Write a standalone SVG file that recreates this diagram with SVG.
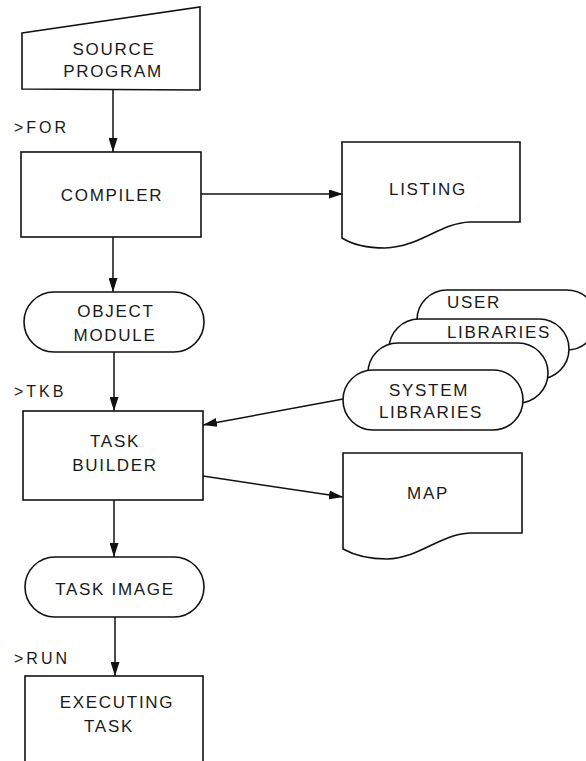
<svg xmlns="http://www.w3.org/2000/svg" width="586" height="761" viewBox="0 0 586 761">
  <style>
    .shape { fill: #fff; stroke: #111; stroke-width: 1.6; }
    .edge { fill: none; stroke: #111; stroke-width: 1.5; marker-end: url(#arrow); }
    .label { font-family: "Liberation Sans", Arial, sans-serif; font-size: 17px; letter-spacing: 1.7px; fill: #1a1a1a; text-anchor: middle; }
    .cmd { font-family: "Liberation Sans", Arial, sans-serif; font-size: 16px; letter-spacing: 3px; fill: #1a1a1a; }
  </style>
  <defs>
    <marker id="arrow" markerUnits="userSpaceOnUse" markerWidth="15" markerHeight="9" refX="14" refY="4.5" orient="auto">
      <path d="M0,0 L14,4.5 L0,9 Z" fill="#111"/>
    </marker>
  </defs>
  <rect width="586" height="761" fill="#fff"/>

  <!-- connectors -->
  <g id="connectors">
    <line class="edge" x1="113" y1="90" x2="113" y2="152"/>
    <line class="edge" x1="201" y1="194" x2="343" y2="194"/>
    <line class="edge" x1="113" y1="237" x2="113" y2="292"/>
    <line class="edge" x1="114" y1="352" x2="114" y2="411"/>
    <line class="edge" x1="343" y1="399" x2="203" y2="425"/>
    <line class="edge" x1="203" y1="476" x2="343" y2="497"/>
    <line class="edge" x1="114" y1="500" x2="114" y2="557"/>
    <line class="edge" x1="115" y1="617" x2="115" y2="676"/>
  </g>

  <!-- command prompts -->
  <g id="prompts">
    <text class="cmd" x="14" y="133">&gt;FOR</text>
    <text class="cmd" x="14" y="397">&gt;TKB</text>
    <text class="cmd" x="14" y="664">&gt;RUN</text>
  </g>

  <g id="source-program">
    <path class="shape" d="M22,33 L200,7 L200,90 L22,89 Z"/>
    <text class="label" x="114" y="55">SOURCE</text>
    <text class="label" x="113" y="77">PROGRAM</text>
  </g>

  <g id="compiler">
    <rect class="shape" x="21" y="152" width="180" height="85"/>
    <text class="label" x="112" y="201">COMPILER</text>
  </g>

  <g id="listing">
    <path class="shape" d="M342,142 H520 V222 L470,222 C440,223 420,247 385,248 C365,248 350,243 342,238 Z"/>
    <text class="label" x="428" y="195">LISTING</text>
  </g>

  <g id="object-module">
    <rect class="shape" x="24" y="292" width="180" height="60" rx="30" ry="30"/>
    <text class="label" x="116" y="317">OBJECT</text>
    <text class="label" x="115" y="341">MODULE</text>
  </g>

  <g id="libraries">
    <rect class="shape" x="417" y="290" width="180" height="60" rx="30" ry="30"/>
    <text class="label" x="474" y="308">USER</text>
    <rect class="shape" x="389" y="319" width="180" height="60" rx="30" ry="30"/>
    <text class="label" x="499" y="338">LIBRARIES</text>
    <rect class="shape" x="368" y="343" width="180" height="60" rx="30" ry="30"/>
    <rect class="shape" x="343" y="370" width="180" height="60" rx="30" ry="30"/>
    <text class="label" x="429" y="396">SYSTEM</text>
    <text class="label" x="431" y="418">LIBRARIES</text>
  </g>

  <g id="task-builder">
    <rect class="shape" x="23" y="411" width="180" height="89"/>
    <text class="label" x="115" y="447">TASK</text>
    <text class="label" x="115" y="471">BUILDER</text>
  </g>

  <g id="map">
    <path class="shape" d="M343,453 H522 V533 L470,533 C440,534 420,558 387,559 C367,559 352,554 343,549 Z"/>
    <text class="label" x="428" y="499">MAP</text>
  </g>

  <g id="task-image">
    <rect class="shape" x="25" y="557" width="179" height="60" rx="30" ry="30"/>
    <text class="label" x="115" y="595">TASK IMAGE</text>
  </g>

  <g id="executing-task">
    <rect class="shape" x="25" y="676" width="178" height="100"/>
    <text class="label" x="117" y="708">EXECUTING</text>
    <text class="label" x="109" y="732">TASK</text>
  </g>
</svg>
